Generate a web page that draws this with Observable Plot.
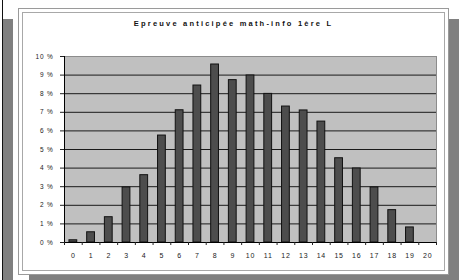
<!DOCTYPE html>
<html><head><meta charset="utf-8">
<script src="https://cdn.jsdelivr.net/npm/d3@7"></script>
<script src="https://cdn.jsdelivr.net/npm/@observablehq/plot@0.6"></script>
<style>
body{margin:0;background:#fff;}
#wrap{position:relative;width:459px;height:280px;overflow:hidden;font-family:"Liberation Sans",Arial,sans-serif;background:#fff;}
.leftline{position:absolute;left:2px;top:0;width:1px;height:280px;background:#111;}
.leftshadow{position:absolute;left:3px;top:19px;width:10px;height:261px;background:#808080;}
.shadow{position:absolute;left:29px;top:19px;width:430px;height:261px;background:#808080;}
.frame{position:absolute;left:18px;top:8px;width:429px;height:265px;background:#fff;border:1px solid #9a9a9a;}
.inner{position:absolute;left:3px;top:3px;right:3px;bottom:3px;border:1px solid #a8a8a8;}
.title{position:absolute;left:18px;top:19px;width:431px;text-align:center;font-weight:bold;font-size:7.5px;letter-spacing:2.2px;color:#111;}
#chart{position:absolute;left:0;top:0;}
#chart svg text{letter-spacing:0.8px;}
</style></head><body>
<div id="wrap">
 <div class="leftline"></div>
 <div class="leftshadow"></div>
 <div class="shadow"></div>
 <div class="frame"><div class="inner"></div></div>
 <div class="title">Epreuve anticipée math-info 1ère L</div>
 <div id="chart"></div>
</div>
<script>
const notes = [0,1,2,3,4,5,6,7,8,9,10,11,12,13,14,15,16,17,18,19,20];
const percents = [0.12,0.55,1.36,2.96,3.62,5.75,7.11,8.44,9.57,8.73,8.98,7.99,7.31,7.10,6.50,4.53,3.98,2.96,1.74,0.81,0];
const yTicks = [0,1,2,3,4,5,6,7,8,9,10];

const data = notes.map((k, i) => ({k, p: percents[i]}));
const boundaries = notes.map(n => n - 0.5).concat([notes[notes.length - 1] + 0.5]);

const chart = Plot.plot({
  width: 459,
  height: 280,
  marginLeft: 64,
  marginRight: 23,
  marginTop: 56,
  marginBottom: 38,
  style: {background: "transparent", color: "#222", fontFamily: "'Liberation Sans', Arial, sans-serif"},
  x: {domain: [-0.5, 20.5]},
  y: {domain: [0, 10]},
  marks: [
    Plot.frame({fill: "#c0c0c0", stroke: "#8c8c8c"}),
    Plot.ruleY(yTicks.filter(t => t > 0 && t < 10), {stroke: "#1a1a1a", strokeWidth: 1}),
    Plot.rectY(data, {x1: d => d.k - 0.22, x2: d => d.k + 0.22, y1: 0, y2: "p", fill: "#4d4d4d", stroke: "#111", strokeWidth: 1}),
    Plot.ruleX([-0.5], {stroke: "#000"}),
    Plot.ruleY([0], {stroke: "#000"}),
    Plot.axisY({ticks: yTicks, tickSize: 4, tickPadding: 7, tickFormat: d => d + " %", fontSize: 6.5, label: null}),
    Plot.axisX({ticks: boundaries, tickSize: 3, tickFormat: () => "", label: null}),
    Plot.axisX({ticks: notes, tickSize: 0, tickPadding: 11, fontSize: 7, label: null, tickFormat: d => String(d)})
  ]
});
document.getElementById("chart").appendChild(chart);
</script>
</body></html>
